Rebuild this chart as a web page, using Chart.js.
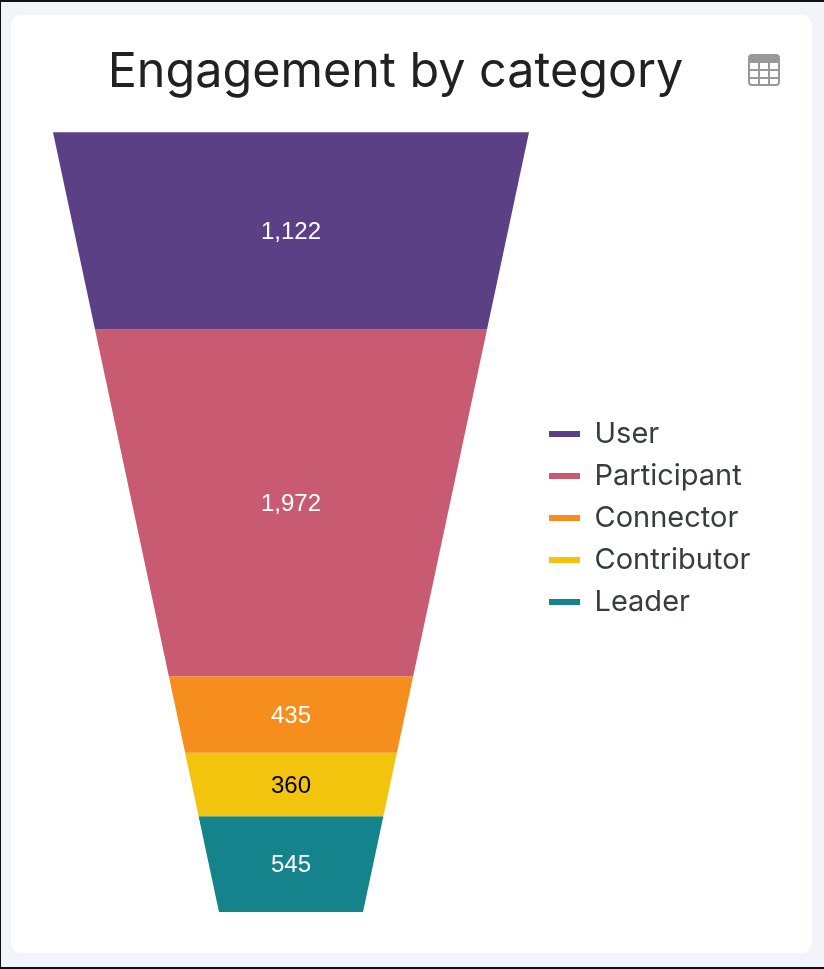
<!DOCTYPE html>
<html>
<head>
<meta charset="utf-8">
<title>Engagement by category</title>
<script src="https://cdn.jsdelivr.net/npm/chart.js@4"></script>
<style>
  html, body { margin:0; padding:0; }
  body { width:824px; height:969px; background:#f3f4f9; position:relative; overflow:hidden; }
  .frame { position:absolute; inset:0; border:solid #111; border-width:2px 0 2px 1px; box-sizing:border-box; pointer-events:none; }
  .card { position:absolute; left:11px; top:15px; width:801px; height:938px; background:#fff; border-radius:11px; }
  canvas { position:absolute; left:0; top:0; }
  .tableIcon { position:absolute; left:748px; top:54px; width:32px; height:32px; }
</style>
</head>
<body>
<div class="card"></div>
<canvas id="funnel" width="824" height="969"></canvas>
<svg class="tableIcon" viewBox="0 0 32 32">
  <rect x="1" y="1" width="30" height="30" rx="3" fill="#fff" stroke="#999" stroke-width="2"/>
  <path d="M3 1h26a2 2 0 0 1 2 2v6H1V3a2 2 0 0 1 2-2z" fill="#999"/>
  <path d="M11 8v23M21 8v23M1 16h30M1 24h30" stroke="#999" stroke-width="2" fill="none"/>
</svg>
<script>
// ----------------- DATA -----------------
const categories = ['User', 'Participant', 'Connector', 'Contributor', 'Leader'];
const values = [1122, 1972, 435, 360, 545];
const colors = ['#5c4085', '#c85a72', '#f68e1e', '#f2c40e', '#14838b'];
const labelColors = ['#fff', '#fff', '#fff', '#000', '#fff'];
// ----------------------------------------

const total = values.reduce((a, b) => a + b, 0);
const topHalf = 238, neckHalf = 72; // funnel half widths at top and bottom

const halfAt = v => topHalf + (neckHalf - topHalf) * (v / total);

// bars give the stacked y scale and the legend, this draws them as funnel slices
const funnelPlugin = {
  id: 'funnelSlices',
  beforeDatasetDraw(chart, args) {
    const { ctx, scales } = chart;
    const i = args.index;
    const from = values.slice(0, i).reduce((a, b) => a + b, 0);
    const to = from + values[i];
    const y0 = scales.y.getPixelForValue(from), y1 = scales.y.getPixelForValue(to);
    const px = v => scales.fx.getPixelForValue(v);
    ctx.save();
    ctx.beginPath();
    ctx.moveTo(px(-halfAt(from)), y0);
    ctx.lineTo(px(halfAt(from)), y0);
    ctx.lineTo(px(halfAt(to)), y1);
    ctx.lineTo(px(-halfAt(to)), y1);
    ctx.closePath();
    ctx.fillStyle = colors[i];
    ctx.fill();
    ctx.restore();
    return false;
  },
  afterDatasetsDraw(chart) {
    const { ctx, scales } = chart;
    ctx.save();
    ctx.font = '24px "Liberation Sans", Arial, sans-serif';
    ctx.textAlign = 'center';
    ctx.textBaseline = 'middle';
    let from = 0;
    values.forEach((v, i) => {
      ctx.fillStyle = labelColors[i];
      const y = scales.y.getPixelForValue(from + v / 2);
      ctx.fillText(v.toLocaleString('en-US'), scales.fx.getPixelForValue(0), y + 1.5);
      from += v;
    });
    ctx.restore();
  }
};

new Chart(document.getElementById('funnel').getContext('2d'), {
  type: 'bar',
  data: {
    labels: ['Engagement'],
    datasets: categories.map((c, i) => ({ label: c, data: [values[i]], backgroundColor: colors[i], borderWidth: 0 }))
  },
  options: {
    responsive: false,
    animation: false,
    layout: { padding: { left: 30.5, right: 63.5, top: 43, bottom: 57 } },
    scales: {
      x: { display: false, stacked: true },
      fx: { type: 'linear', axis: 'x', display: false, offset: false, min: -260.5, max: 245 },
      y: { display: false, stacked: true, reverse: true, min: 0, max: total }
    },
    plugins: {
      tooltip: { enabled: false },
      title: {
        display: true,
        text: 'Engagement by category',
        color: '#212121',
        font: { family: 'Inter, "Open Sans", sans-serif', size: 48.5, weight: 'normal', lineHeight: 1.2 },
        padding: { top: 0, bottom: 31 }
      },
      legend: {
        position: 'right',
        title: { display: true, text: ' ', padding: 0, font: { size: 81, lineHeight: 1 } },
        labels: {
          boxWidth: 31,
          boxHeight: 6,
          padding: 13,
          color: '#373d3f',
          font: { family: 'Inter, "Open Sans", sans-serif', size: 29 }
        }
      }
    }
  },
  plugins: [funnelPlugin]
});
</script>
<div class="frame"></div>
</body>
</html>
